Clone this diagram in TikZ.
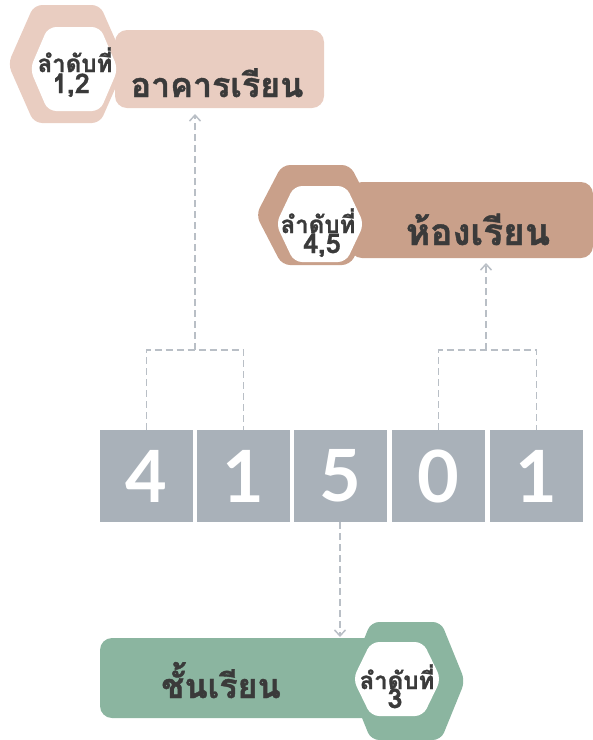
\documentclass[tikz,border=0pt]{standalone}
\usepackage{fontspec}
\usetikzlibrary{arrows.meta,calc}
\newfontfamily\thaifont[Script=Thai,BoldFeatures={FakeBold=1.2}]{Loma}
\newfontfamily\digitfont{Lato}
\definecolor{pinkc}{HTML}{E9CDC1}
\definecolor{tanc}{HTML}{C9A08A}
\definecolor{greenc}{HTML}{8BB5A0}
\definecolor{grayc}{HTML}{A9B1B9}
\definecolor{linec}{HTML}{B9BFC6}
\definecolor{textc}{HTML}{3A3A3A}
\newcommand\hexshape[6]{%
  \fill[#1,rounded corners=8pt] (#2,#3-#5) -- (#2+#6,#3-#5) -- (#2+#4,#3) -- (#2+#6,#3+#5) -- (#2-#6,#3+#5) -- (#2-#4,#3) -- (#2-#6,#3-#5) -- cycle;}
\begin{document}
\begin{tikzpicture}[x=1pt,y=-1pt,
  namebox/.style={draw=none,rounded corners=12pt,inner sep=0pt},
  digitbox/.style={fill=grayc,minimum width=93pt,minimum height=92pt,inner sep=0pt,text=white,font=\digitfont\bfseries\fontsize{72}{72}\selectfont},
  bigname/.style={text=textc,inner sep=0pt,anchor=base,font=\thaifont\bfseries\fontsize{#1}{40}\selectfont},
  ordlabel/.style={text=textc,inner sep=0pt,anchor=base,font=\thaifont\bfseries\fontsize{24}{26}\selectfont},
  ordnum/.style={text=textc,inner sep=0pt,anchor=base,font=\thaifont\bfseries\fontsize{27}{28}\selectfont},
  conn/.style={draw=linec,line width=1.5pt,dash pattern=on 7pt off 4pt},
  arr/.style={conn,-{Straight Barb[length=6pt,width=11pt,line width=1.5pt]}}]
\useasboundingbox (0,0) rectangle (593,740);
% building
\node[namebox,fill=pinkc,minimum width=209pt,minimum height=78pt] (bbox) at (219.5,69) {};
\hexshape{pinkc}{67}{64}{59}{59}{33}
\hexshape{white}{74}{69}{44}{42}{26}
\node[bigname=34] (bname) at (217,97) {อาคารเรียน};
\node[ordnum] (o1b) at (71,93) {1,2};
\node[ordlabel] (o1a) at (75,72) {ลำดับที่};
% room
\node[namebox,fill=tanc,minimum width=243pt,minimum height=76pt] (rbox) at (471.5,220) {};
\hexshape{tanc}{316}{215}{60}{50}{34}
\hexshape{white}{320}{224}{44}{38}{26}
\node[bigname=37] (rname) at (478,245) {ห้องเรียน};
\node[ordnum] (o2b) at (322,253) {4,5};
\node[ordlabel] (o2a) at (318,233) {ลำดับที่};
% class
\node[namebox,fill=greenc,minimum width=320pt,minimum height=80pt] (gbox) at (260,678) {};
\hexshape{greenc}{406}{681}{59}{59}{35}
\hexshape{white}{397}{679}{44}{37}{26}
\node[bigname=34] (gname) at (221,698) {ชั้นเรียน};
\node[ordnum] (o3b) at (395,708) {3};
\node[ordlabel] (o3a) at (397,689) {ลำดับที่};
% digits
\node[digitbox] (d1) at (146.5,476) {4};
\node[digitbox] (d2) at (243.5,476) {1};
\node[digitbox] (d3) at (340,476) {5};
\node[digitbox] (d4) at (438.5,476) {0};
\node[digitbox] (d5) at (536.5,476) {1};
% connectors
\coordinate (lj) at (195,350);
\coordinate (rj) at (486,350);
\coordinate (btip) at (195,114);
\coordinate (rtip) at (486,263);
\coordinate (gtip) at (340,637);
\draw[conn] (d1.north) |- (lj) -| (d2.north);
\draw[arr] (lj) -- (btip);
\draw[conn] (d4.north) |- (rj) -| (d5.north);
\draw[arr] (rj) -- (rtip);
\draw[arr] (d3.south) -- (gtip);
\end{tikzpicture}
\end{document}
